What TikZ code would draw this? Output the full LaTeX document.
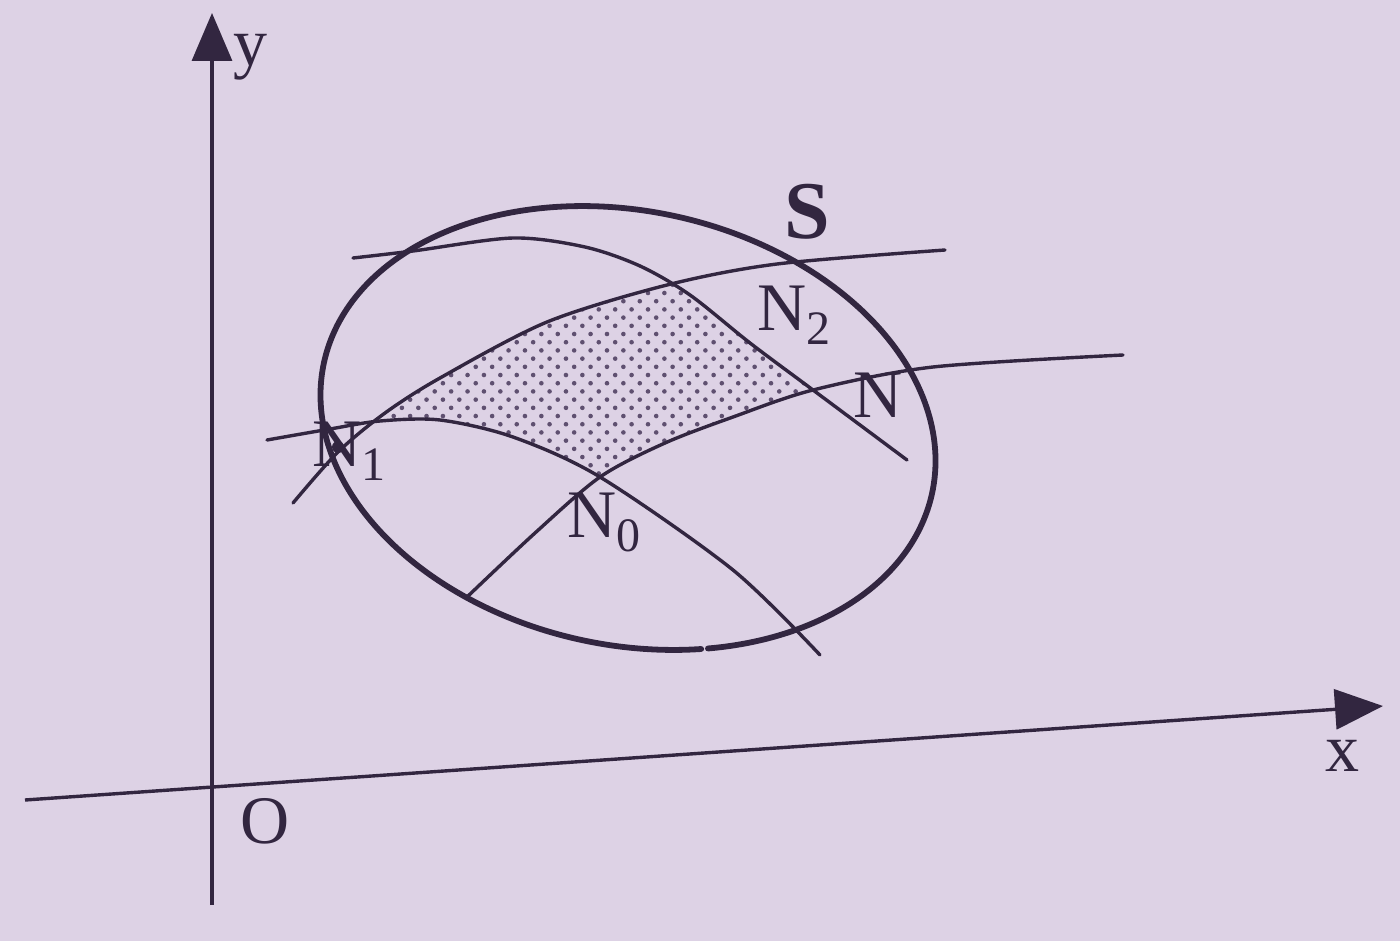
\documentclass[tikz,border=0pt]{standalone}
\usepackage{fontspec}
\setmainfont{Liberation Serif}
\usetikzlibrary{arrows.meta,patterns.meta}
\definecolor{bg}{RGB}{221,210,229}
\definecolor{ink}{RGB}{50,38,64}
\definecolor{dotc}{RGB}{95,80,112}
\newcommand{\lsub}[1]{\raisebox{-7pt}{\fontsize{24}{24}\selectfont #1}}
\tikzset{
  curve/.style={draw=ink, line width=1.7pt, line cap=round},
  oval/.style={draw=ink, line width=2.9pt, line cap=round},
  axis/.style={draw=ink, line width=1.7pt, -{Triangle[length=24pt,width=20pt]}},
  lbl/.style={text=ink, inner sep=0pt, anchor=base west, font=\fontsize{34}{34}\selectfont},
  bigl/.style={text=ink, inner sep=0pt, anchor=base west, font=\fontsize{41}{41}\selectfont\bfseries},
}
\begin{document}
\begin{tikzpicture}[x=0.5pt,y=-0.5pt]
\fill[bg] (0,0) rectangle (1400,941);
\useasboundingbox (0,0) rectangle (1400,941);

% shaded curvilinear patch
\begin{scope}
\clip plot[smooth] coordinates {(293,503) (338,452) (385,413) (440,378) (547,322) (667,285) (777,264) (945,250)} -- (945,941) -- (293,941) -- cycle;
\clip plot[smooth] coordinates {(353,258) (413,251) (513,238) (585,247) (640,266) (690,295) (750,343) (813,390) (907,460)} -- (907,941) -- (353,941) -- cycle;
\clip plot[smooth] coordinates {(467,597) (535,533) (600,477) (665,443) (733,417) (813,390) (933,367) (1123,355)} -- (1123,0) -- (250,0) -- (250,700) -- cycle;
\clip plot[smooth] coordinates {(267,440) (330,429) (380,421) (440,420) (513,437) (600,477) (733,570) (820,655)} -- (820,0) -- (267,0) -- cycle;
\fill[pattern={Dots[distance=5.8pt,radius=1.15pt,angle=45]}, pattern color=dotc] (0,0) rectangle (1400,941);
\end{scope}

% axes
\coordinate (yb) at (212,905);
\coordinate (yt) at (212,13);
\coordinate (xl) at (25,800);
\coordinate (xr) at (1383,706);
\draw[axis] (yb) -- (yt);
\draw[axis] (xl) -- (xr);

% surface S (with the small break at the bottom)
\draw[oval] plot[domain=67.8:426.5, samples=240, smooth]
  ({628 + 304.2*cos(\x) - 45.1*sin(\x)}, {428 + 64.7*cos(\x) + 212.3*sin(\x)});

% coordinate curves
\draw[curve] plot[smooth] coordinates {(293,503) (338,452) (385,413) (440,378) (547,322) (667,285) (777,264) (945,250)};
\draw[curve] plot[smooth] coordinates {(353,258) (413,251) (513,238) (585,247) (640,266) (690,295) (750,343) (813,390) (907,460)};
\draw[curve] plot[smooth] coordinates {(467,597) (535,533) (600,477) (665,443) (733,417) (813,390) (933,367) (1123,355)};
\draw[curve] plot[smooth] coordinates {(267,440) (330,429) (380,421) (440,420) (513,437) (600,477) (733,570) (820,655)};

% point N1
\node[circle, fill=ink, inner sep=0pt, minimum size=6pt] (n1pt) at (338,447) {};

% labels
\node[lbl] (ylab) at (233,66) {y};
\node[lbl] (xlab) at (1325,771) {x};
\node[lbl] (olab) at (240,843) {O};
\node[bigl] (slab) at (784,238) {S};
\node[lbl] (n2lab) at (757,330) {N\lsub{2}};
\node[lbl] (nlab) at (853,417) {N};
\node[lbl] (n0lab) at (567,537) {N\lsub{0}};
\node[lbl] (n1lab) at (312,466) {N\lsub{1}};
\end{tikzpicture}
\end{document}
